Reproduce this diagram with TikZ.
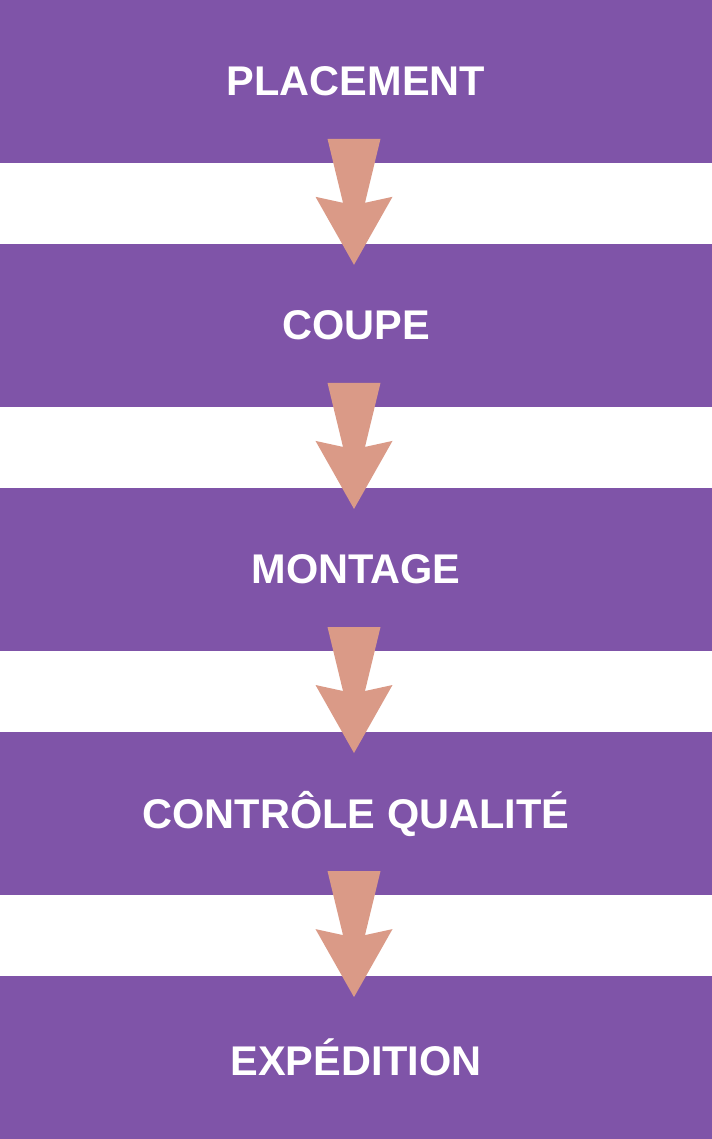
\documentclass[tikz,border=0pt]{standalone}
\usepackage{fontspec}
\setmainfont{Liberation Sans}
\usepackage{tikz}
\usetikzlibrary{positioning,calc}
\definecolor{stepviolet}{RGB}{127,84,168}
\definecolor{arrowpeach}{RGB}{218,154,135}
\tikzset{
  stage/.style={fill=stepviolet, draw=none, minimum width=712bp, minimum height=162.5bp,
                inner sep=0pt, outer sep=0pt, text=white, font=\fontsize{41.5bp}{48bp}\selectfont\bfseries},
  % fat down arrow, drawn around the middle of the gap
  downarrow/.pic={
    \fill[arrowpeach] (-26.5bp,64.5bp) -- (26.5bp,64.5bp) -- (11bp,0.5bp) -- (38.5bp,6.5bp)
      -- (0bp,-61.5bp) -- (-38.5bp,6.5bp) -- (-11bp,0.5bp) -- cycle;
  },
}

\begin{document}
\begin{tikzpicture}[node distance=81.6bp]
    \useasboundingbox (0,0) rectangle (712bp,-1139bp);
    \node[stage] (place) at (356bp,-81.25bp) {PLACEMENT};
    \node[stage, below=of place] (coupe) {COUPE};
    \node[stage, below=of coupe] (montage) {MONTAGE};
    \node[stage, below=of montage] (qualite) {CONTRÔLE QUALITÉ};
    \node[stage, below=of qualite] (expe) {EXPÉDITION};
    % arrows between the stages
    \foreach \a/\b in {place/coupe, coupe/montage, montage/qualite, qualite/expe}
      \pic at ($(\a.south)!0.5!(\b.north)+(-2bp,0)$) {downarrow};
\end{tikzpicture}
\end{document}
